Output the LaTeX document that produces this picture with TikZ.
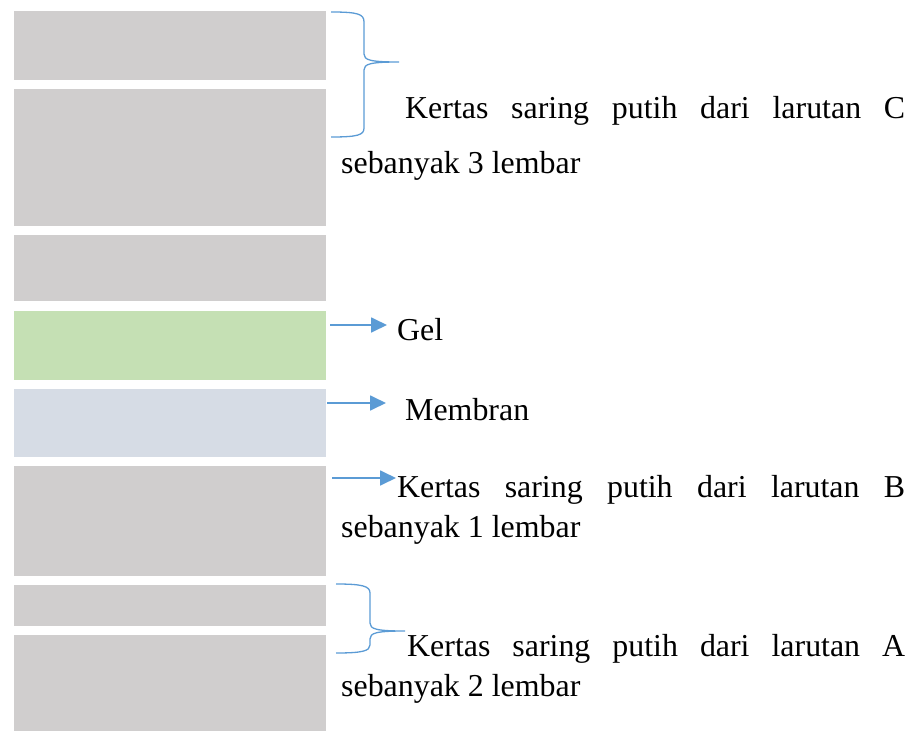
\documentclass[tikz,border=0pt]{standalone}
\usepackage{fontspec}
\setmainfont{Liberation Serif}
\usetikzlibrary{arrows.meta}
\definecolor{paper}{HTML}{D0CECE}
\definecolor{gelgreen}{HTML}{C5E0B4}
\definecolor{membrane}{HTML}{D6DCE5}
\definecolor{linkblue}{HTML}{5B9BD5}
\tikzset{
  layer/.style={draw=none,fill=#1},
  label/.style={anchor=base west,inner sep=0pt,font=\fontsize{31.9}{38}\selectfont},
  pointer/.style={draw=linkblue,line width=1.8pt,-{Triangle[length=16pt,width=15pt,fill=linkblue]}},
  bracket/.style={draw=linkblue,line width=1.3pt}
}
\begin{document}
\begin{tikzpicture}[x=1pt,y=-1pt]
\useasboundingbox (0,0) rectangle (911,731);
% stack of layers
\fill[layer=paper]    (14,11)  rectangle (326,80);
\fill[layer=paper]    (14,89)  rectangle (326,226);
\fill[layer=paper]    (14,235) rectangle (326,301);
\fill[layer=gelgreen] (14,311) rectangle (326,380);
\fill[layer=membrane] (14,389) rectangle (326,457);
\fill[layer=paper]    (14,466) rectangle (326,576);
\fill[layer=paper]    (14,585) rectangle (326,626);
\fill[layer=paper]    (14,635) rectangle (326,731);

% labels
\node[label] (c1) at (405,118) {\makebox[500pt][s]{Kertas saring putih dari larutan C}};
\node[label] (c2) at (341,173) {sebanyak 3 lembar};
\node[label] (gel) at (397,340) {Gel};
\node[label] (mem) at (405,420) {Membran};
\node[label] (b1) at (397,497) {\makebox[508pt][s]{Kertas saring putih dari larutan B}};
\node[label] (b2) at (341,537) {sebanyak 1 lembar};
\node[label] (a1) at (407,656) {\makebox[498pt][s]{Kertas saring putih dari larutan A}};
\node[label] (a2) at (341,696) {sebanyak 2 lembar};

% arrow anchors
\coordinate (gs) at (330,325);  \coordinate (ge) at (387,325);
\coordinate (ms) at (327,403);  \coordinate (me) at (386,403);
\coordinate (bs) at (332,478);  \coordinate (be) at (396,478);
\draw[pointer] (gs) -- (ge);
\draw[pointer] (ms) -- (me);
\draw[pointer] (bs) -- (be);

% braces
\coordinate (ct) at (331,12);  \coordinate (cm) at (399,62);  \coordinate (cb) at (331,137);
\draw[bracket] (ct) .. controls (358,12) and (364,14) .. (364,22) -- (364,54)
  .. controls (364,60) and (370,62) .. (cm)
  .. controls (370,62) and (364,64) .. (364,70) -- (364,128)
  .. controls (364,135) and (358,137) .. (cb);
\coordinate (at) at (336,584); \coordinate (am) at (405,631); \coordinate (ab) at (336,653);
\draw[bracket] (at) .. controls (362,584) and (370,586) .. (370,593) -- (370,623)
  .. controls (370,629) and (376,631) .. (am)
  .. controls (376,631) and (370,633) .. (370,639) -- (370,645)
  .. controls (370,651) and (362,653) .. (ab);
\end{tikzpicture}
\end{document}
